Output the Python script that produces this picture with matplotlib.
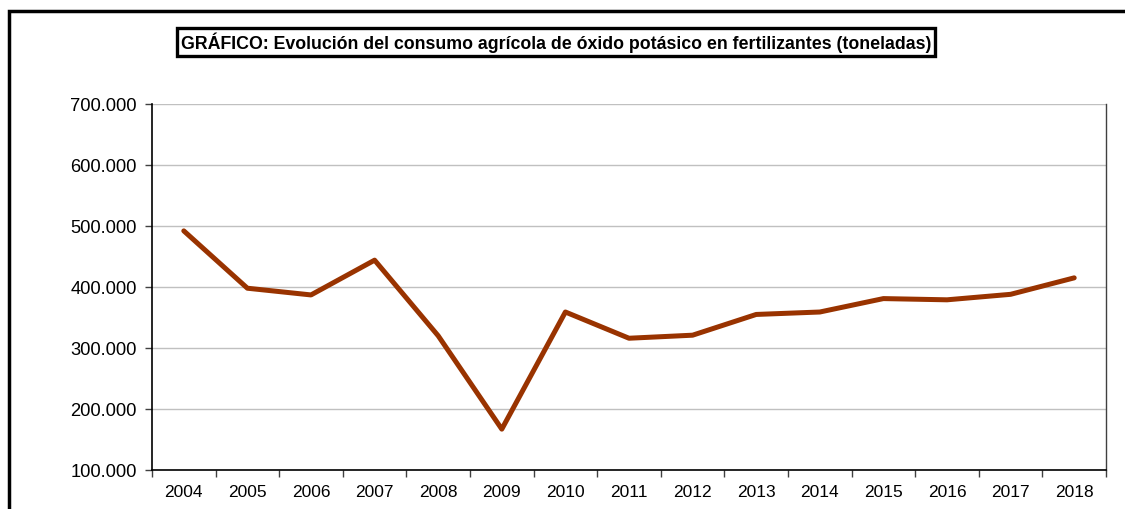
import matplotlib
matplotlib.use("Agg")
import matplotlib.pyplot as plt
from matplotlib.patches import Rectangle
from matplotlib.ticker import FuncFormatter, FixedLocator

years = ["2004", "2005", "2006", "2007", "2008", "2009", "2010", "2011",
         "2012", "2013", "2014", "2015", "2016", "2017", "2018"]
consumo = [492000, 398000, 387000, 444000, 320000, 167000, 359000, 316000,
           321000, 355000, 359000, 381000, 379000, 388000, 415000]
yticks = [100000, 200000, 300000, 400000, 500000, 600000, 700000]
title = "GRÁFICO: Evolución del consumo agrícola de óxido potásico en fertilizantes (toneladas)"

plt.rcParams['font.family'] = ['Liberation Sans', 'DejaVu Sans']

W, H = 1125, 510
fig = plt.figure(figsize=(W / 100, H / 100), dpi=100)

# outer frame (cropped at right and bottom)
fig.patches.append(Rectangle((9 / W, -0.1), 1.2, 1 - 12 / H + 0.1,
                             transform=fig.transFigure, fill=False,
                             edgecolor='black', linewidth=2.5, zorder=0))

ax = fig.add_axes([152 / W, (H - 471) / H, 954 / W, 366 / H])
x = list(range(len(years)))
ax.plot(x, consumo, color='#993300', linewidth=3.6, solid_capstyle='round',
        solid_joinstyle='round', zorder=3)

ax.set_xlim(-0.5, len(years) - 0.5)
ax.set_ylim(100000, 700000)
ax.set_yticks(yticks)
ax.yaxis.set_major_formatter(FuncFormatter(lambda v, p: f"{int(v):,}".replace(",", ".")))
ax.grid(axis='y', color='#c0c0c0', linewidth=1.0, zorder=0)
ax.set_axisbelow(True)

# category axis: ticks at boundaries, labels centered
ax.xaxis.set_major_locator(FixedLocator([i - 0.5 for i in range(len(years) + 1)]))
ax.xaxis.set_major_formatter(FuncFormatter(lambda v, p: ""))
ax.xaxis.set_minor_locator(FixedLocator(x))
ax.set_xticklabels(years, minor=True)
ax.tick_params(axis='x', which='minor', length=0, pad=10, labelsize=12.5)
ax.tick_params(axis='x', which='major', length=5, direction='out', width=1, color='#404040')
ax.tick_params(axis='y', length=5, direction='out', width=1, pad=6, labelsize=13.2, color='#404040')

for s in ['left', 'bottom']:
    ax.spines[s].set_color('black')
    ax.spines[s].set_linewidth(1.2)
ax.spines['right'].set_color('#404040')
ax.spines['right'].set_linewidth(1.0)
ax.spines['top'].set_visible(False)

fig.text(556 / W, 1 - 43 / H, title, ha='center', va='center', fontsize=12.8,
         fontweight='bold',
         bbox=dict(boxstyle='square,pad=0.2', facecolor='white',
                   edgecolor='black', linewidth=2.4))

fig.savefig("out.png", dpi=100)
